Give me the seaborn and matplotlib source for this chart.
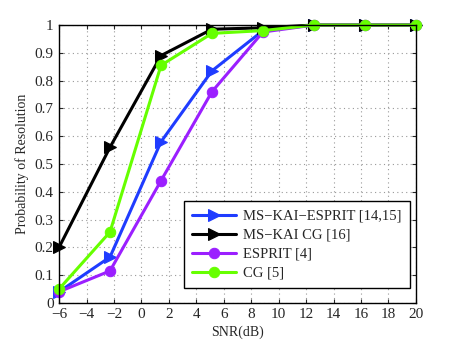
import numpy as np
import pandas as pd
import matplotlib
matplotlib.use('Agg')
import matplotlib.pyplot as plt
import seaborn as sns

snr = [-6, -2.29, 1.43, 5.14, 8.86, 12.57, 16.29, 20]
ms_kai_esprit = [0.04, 0.165, 0.58, 0.835, 0.98, 1.0, 1.0, 1.0]
ms_kai_cg = [0.20, 0.56, 0.89, 0.985, 0.99, 1.0, 1.0, 1.0]
esprit = [0.04, 0.115, 0.44, 0.76, 0.975, 1.0, 1.0, 1.0]
cg = [0.05, 0.255, 0.855, 0.97, 0.98, 1.0, 1.0, 1.0]

labels = ['MS\u2212KAI\u2212ESPRIT [14,15]', 'MS\u2212KAI CG [16]', 'ESPRIT [4]', 'CG [5]']
colors = ['#1f3cff', 'black', '#9b1fff', '#66ff00']
markers = ['>', '>', 'o', 'o']
msizes = [9, 9, 7.5, 7.5]
series = [ms_kai_esprit, ms_kai_cg, esprit, cg]

sns.set_style('ticks')
plt.rcParams['font.family'] = ['Liberation Serif', 'DejaVu Serif']

fig = plt.figure(figsize=(4.58, 3.43), dpi=100)
ax = fig.add_axes([0.129, 0.117, 0.779, 0.81])

for lab, col, mk, ms, vals in zip(labels, colors, markers, msizes, series):
    df = pd.DataFrame({'snr': snr, 'p': vals})
    sns.lineplot(data=df, x='snr', y='p', ax=ax, color=col, marker=mk,
                 markersize=ms, markeredgecolor=col, linewidth=2.2,
                 label=lab, clip_on=False)

ax.set_xlim(-6, 20)
ax.set_ylim(0, 1)
ax.set_xticks(np.arange(-6, 21, 2))
ax.set_yticks(np.arange(0, 1.01, 0.1))
ax.set_xticklabels(['\u22126', '\u22124', '\u22122', '0', '2', '4', '6', '8', '10', '12', '14', '16', '18', '20'])
ax.set_yticklabels(['0', '0.1', '0.2', '0.3', '0.4', '0.5', '0.6', '0.7', '0.8', '0.9', '1'])
ax.grid(True, linestyle=(0, (1, 3)), color='#999999', linewidth=0.8)
ax.tick_params(direction='in', top=True, right=True, labelsize=11, length=3, pad=4)
for s in ax.spines.values():
    s.set_linewidth(1.0)
    s.set_color('black')
ax.set_xlabel('SNR(dB)', fontsize=10, labelpad=3)
ax.set_ylabel('Probability of Resolution', fontsize=10, labelpad=4)

leg = ax.legend(loc='lower right', fontsize=10.5, fancybox=False, framealpha=1,
                edgecolor='black', borderpad=0.55, handlelength=3.0,
                handletextpad=0.5, labelspacing=0.4, borderaxespad=0,
                bbox_to_anchor=(0.983, 0.054))
leg.get_frame().set_linewidth(1.0)

fig.savefig('out.png', dpi=100)
